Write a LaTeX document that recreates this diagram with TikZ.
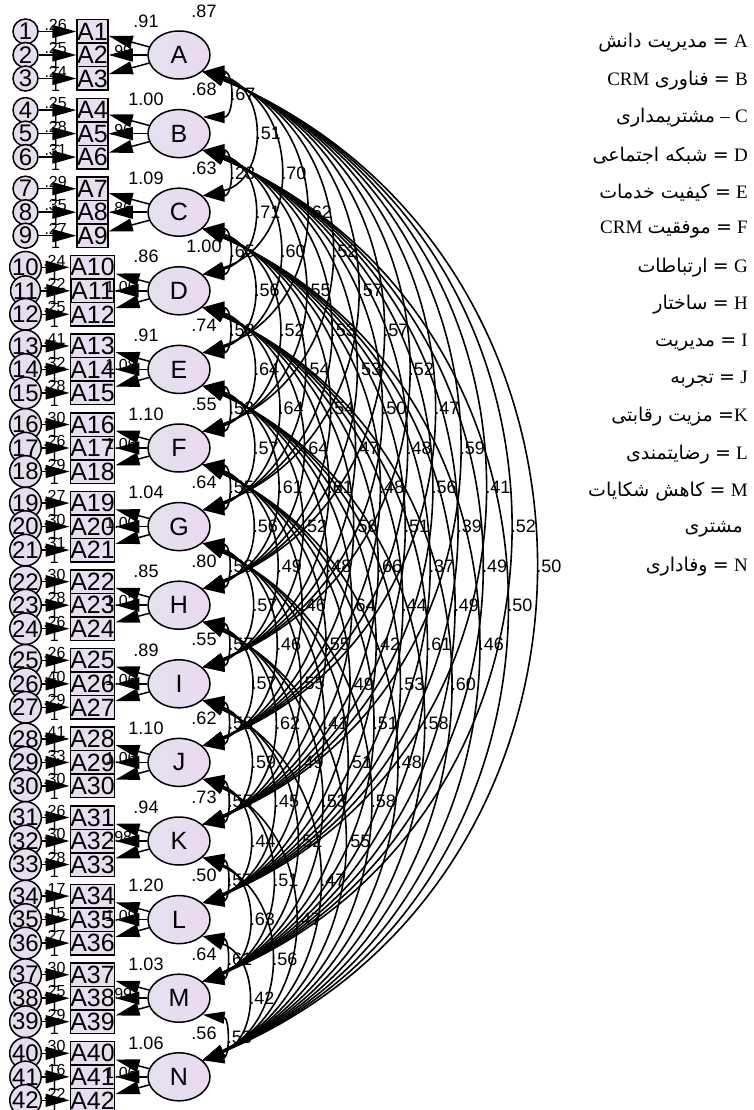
\documentclass[tikz,border=0pt]{standalone}
\usepackage{fontspec}
\setmainfont{Liberation Sans}
\newfontfamily\latinserif{Liberation Serif}
\newfontfamily\arabicfont[Script=Arabic]{DejaVu Sans}
\TeXXeTstate=1
\usetikzlibrary{arrows.meta,shapes.geometric,calc}
\definecolor{latL}{HTML}{E2E2EE}
\definecolor{latR}{HTML}{ECD8F1}
\definecolor{obsfill}{HTML}{E7DEF1}
\definecolor{errfill}{HTML}{E7DDF1}
\begin{document}
\begin{tikzpicture}[x=1pt,y=-1pt,
  latent/.style={ellipse, draw, line width=1.5pt, minimum width=62pt, minimum height=48pt,
    inner sep=0pt, left color=latL, right color=latR, font=\fontsize{25}{25}\selectfont},
  obs/.style={rectangle, draw, line width=1.5pt, minimum width=31pt, minimum height=23.5pt,
    inner sep=0pt, fill=obsfill, font=\fontsize{25}{25}\selectfont},
  err/.style={circle, draw, line width=1.5pt, minimum size=25pt, inner sep=0pt,
    fill=errfill, font=\fontsize{24}{24}\selectfont},
  load/.style={line width=1.5pt, -{Triangle[length=24pt,width=13pt]}},
  cov/.style={line width=1.6pt, {Triangle[length=22pt,width=12pt]}-{Triangle[length=22pt,width=12pt]}},
  lab/.style={font=\fontsize{18}{18}\selectfont, inner sep=0pt},
  elab/.style={font=\fontsize{16}{16}\selectfont, inner sep=0pt},
  leg/.style={font=\fontsize{19}{19}\selectfont, inner sep=0pt, anchor=east},
]
\useasboundingbox (0,0) rectangle (754,1110);

% latent factors
\foreach \L [count=\i from 0] in {A,B,C,D,E,F,G,H,I,J,K,L,M,N}{
  \node[latent] (L\i) at (179,55+78.6*\i) {\L};
}

% observed indicators and their error terms
\foreach \i in {0,...,13}{
  \foreach \k in {0,1,2}{
    \pgfmathtruncatemacro\n{3*\i+\k+1}
    \pgfmathsetmacro\yy{55+78.6*\i+23.5*(\k-1)}
    \node[obs] (o\n) at (92.5,\yy) {A\n};
    \node[err] (e\n) at (25.5,\yy) {\n};
  }
}

% loadings and error paths
\foreach \i in {0,...,13}{
  \foreach \k in {0,1,2}{
    \pgfmathtruncatemacro\n{3*\i+\k+1}
    \draw[load] (L\i) -- (o\n);
    \draw[load] (e\n) -- (o\n);
  }
}

% error variances and fixed weights
\foreach \v [count=\n] in {.26,.25,.24,.25,.28,.31,.29,.35,.27,.24,.22,.25,.41,.32,.28,
  .30,.26,.29,.27,.30,.31,.30,.28,.26,.26,.40,.29,.41,.33,.30,.26,.30,.28,.17,.15,.27,
  .30,.25,.29,.30,.16,.22}{
  \path (e\n) -- (o\n) node[elab, pos=.45, above=1pt] (ev\n) {\v}
                       node[elab, pos=.45, below=2pt] (ew\n) {1};
}

% estimates around each factor
\foreach \v [count=\i from 0] in {.91,1.00,1.09,.86,.91,1.10,1.04,.85,.89,1.10,.94,1.20,1.03,1.06}{
  \node[lab] (lv\i) at (146,55+78.6*\i-34) {\v};
}
\foreach \v [count=\i from 0] in {.87,.68,.63,1.00,.74,.55,.64,.80,.55,.62,.73,.50,.64,.56}{
  \node[lab] (lw\i) at (204,55+78.6*\i-44) {\v};
}
\foreach \v [count=\i from 0] in {.99,.96,.86,1.06,1.08,1.06,1.00,1.02,1.06,1.06,.98,1.09,.99,1.06}{
  \node[elab] (lx\i) at (121,55+78.6*\i-4) {\v};
}

% factor covariances, grouped by distance between factors
\foreach \d/\vals in {
  1/{.67,.23,.65,.58,.53,.55,.59,.57,.58,.55,.57,.61,.53},
  2/{.51,.71,.56,.64,.57,.56,.57,.57,.59,.44,.63,.42},
  3/{.70,.60,.52,.64,.61,.49,.46,.62,.45,.51,.56},
  4/{.62,.55,.54,.64,.52,.46,.55,.49,.52,.47},
  5/{.52,.53,.54,.61,.48,.55,.41,.53,.47},
  6/{.57,.53,.47,.56,.64,.49,.51,.55},
  7/{.57,.50,.48,.66,.42,.51,.58},
  8/{.52,.48,.51,.44,.53,.48},
  9/{.47,.56,.37,.61,.58},
  10/{.59,.39,.49,.60},
  11/{.41,.49,.46},
  12/{.52,.50},
  13/{.50}}{
  \foreach \v [count=\c from 0] in \vals {
    \pgfmathtruncatemacro\j{\c+\d}
    \pgfmathsetmacro\bs{(24+25.5*(\d-1)-0.3*\d*\c)/100}
    \pgfmathsetmacro\Ls{(78.6*\d-32)/100}
    \pgfmathsetmacro\Rs{(\Ls*\Ls/4+\bs*\bs)/(2*\bs)}
    \pgfmathsetmacro\hh{max(0,400/3*\bs*(\Rs-\bs)/(\Ls/2))}
    \pgfmathsetmacro\cc{400/3*\bs}
    \draw[cov] (L\c.-35) .. controls ($(L\c.-35)+(\cc,\hh)$) and ($(L\j.35)+(\cc,-\hh)$) .. (L\j.35)
      node[lab, pos=.5, anchor=west, xshift=3pt] (cv\c-\j) {\v};
  }
}

% legend
\node[leg] (k0) at (748,43) {{\arabicfont\beginR مدیریت دانش\endR}\ {\arabicfont =}\ {\latinserif A}};
\node[leg] (k1) at (748,80.4) {{\latinserif CRM}\ {\arabicfont\beginR فناوری\endR}\ {\arabicfont =}\ {\latinserif B}};
\node[leg] (k2) at (748,117.8) {{\arabicfont\beginR مشتریمداری\endR}\ {\latinserif –}\ {\latinserif C}};
\node[leg] (k3) at (748,155.2) {{\arabicfont\beginR شبکه اجتماعی\endR}\ {\arabicfont =}\ {\latinserif D}};
\node[leg] (k4) at (748,192.6) {{\arabicfont\beginR کیفیت خدمات\endR}\ {\arabicfont =}\ {\latinserif E}};
\node[leg] (k5) at (748,230) {{\latinserif CRM}\ {\arabicfont\beginR موفقیت\endR}\ {\arabicfont =}\ {\latinserif F}};
\node[leg] (k6) at (748,267.4) {{\arabicfont\beginR ارتباطات\endR}\ {\arabicfont =}\ {\latinserif G}};
\node[leg] (k7) at (748,304.8) {{\arabicfont\beginR ساختار\endR}\ {\arabicfont =}\ {\latinserif H}};
\node[leg] (k8) at (748,342.2) {{\arabicfont\beginR مدیریت\endR}\ {\arabicfont =}\ {\latinserif I}};
\node[leg] (k9) at (748,379.6) {{\arabicfont\beginR تجربه\endR}\ {\arabicfont =}\ {\latinserif J}};
\node[leg] (k10) at (748,417) {{\arabicfont\beginR مزیت رقابتی\endR}\ {\arabicfont =}{\latinserif K}};
\node[leg] (k11) at (748,454.4) {{\arabicfont\beginR رضایتمندی\endR}\ {\arabicfont =}\ {\latinserif L}};
\node[leg] (k12) at (748,491.8) {{\arabicfont\beginR کاهش شکایات\endR}\ {\arabicfont =}\ {\latinserif M}};
\node[leg] (k12b) at (743,529.2) {\arabicfont\beginR مشتری\endR};
\node[leg] (k13) at (748,566.6) {{\arabicfont\beginR وفاداری\endR}\ {\arabicfont =}\ {\latinserif N}};
\end{tikzpicture}
\end{document}
